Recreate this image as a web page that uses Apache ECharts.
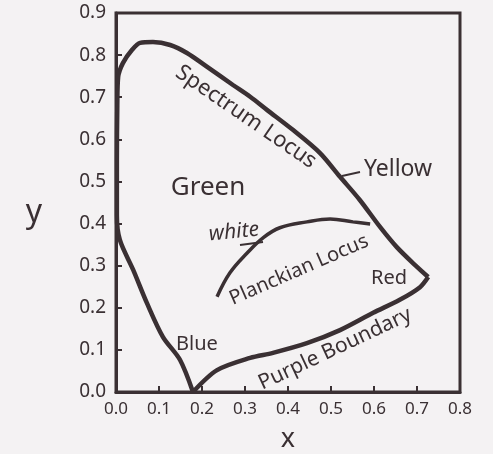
<!DOCTYPE html>
<html><head><meta charset="utf-8">
<script src="https://cdn.jsdelivr.net/npm/echarts@6/dist/echarts.min.js"></script>
<style>html,body{margin:0;padding:0;background:#f4f2f3}#c{width:493px;height:454px}</style>
</head><body><div id="c"></div>
<script>
// Spectrum locus (blue vertex -> up the left side -> over the top -> red vertex)
var spectrumX = [0.179, 0.149, 0.109, 0.072, 0.040, 0.009, 0.002, 0.002, 0.003, 0.005, 0.016, 0.037, 0.056, 0.086, 0.126, 0.165, 0.212, 0.272, 0.312, 0.351, 0.412, 0.474, 0.521, 0.567, 0.614, 0.653, 0.700, 0.726];
var spectrumY = [0.000, 0.076, 0.131, 0.211, 0.290, 0.361, 0.420, 0.550, 0.680, 0.748, 0.781, 0.812, 0.829, 0.831, 0.824, 0.805, 0.772, 0.729, 0.701, 0.670, 0.622, 0.568, 0.511, 0.456, 0.392, 0.344, 0.297, 0.273];
// Purple boundary (red vertex -> blue vertex)
var purpleX = [0.726, 0.707, 0.660, 0.598, 0.521, 0.444, 0.365, 0.312, 0.235, 0.179];
var purpleY = [0.273, 0.249, 0.219, 0.188, 0.147, 0.116, 0.093, 0.081, 0.052, 0.000];
// Planckian locus
var planckX = [0.235, 0.265, 0.305, 0.342, 0.381, 0.444, 0.498, 0.551, 0.591];
var planckY = [0.226, 0.283, 0.330, 0.366, 0.390, 0.404, 0.411, 0.404, 0.399];
// Axis ticks
var xTicks = [0.0, 0.1, 0.2, 0.3, 0.4, 0.5, 0.6, 0.7, 0.8];
var yTicks = [0.0, 0.1, 0.2, 0.3, 0.4, 0.5, 0.6, 0.7, 0.8, 0.9];

function zip(a, b) { return a.map(function (v, i) { return [v, b[i]]; }); }

var ink = '#3a3033';
var font = 'Noto Sans';
var chart = echarts.init(document.getElementById('c'), null, { renderer: 'canvas' });
chart.setOption({
  backgroundColor: '#f4f2f3',
  animation: false,
  grid: { left: 116, top: 13, right: 33, bottom: 62, containLabel: false, outerBoundsMode: 'none', show: true, borderColor: ink, borderWidth: 3, backgroundColor: 'transparent' },
  xAxis: {
    type: 'value', min: xTicks[0], max: xTicks[xTicks.length - 1], interval: 0.1,
    name: 'x', nameLocation: 'middle', nameGap: 34,
    nameTextStyle: { fontSize: 27, color: ink, fontFamily: font },
    axisLine: { show: true, lineStyle: { color: ink, width: 3 } },
    axisTick: { show: true, inside: true, length: 6, lineStyle: { color: ink, width: 2 } },
    axisLabel: { color: ink, fontSize: 17, fontFamily: font, margin: 9, formatter: function (v) { return v.toFixed(1); } },
    splitLine: { show: false }
  },
  yAxis: {
    type: 'value', min: yTicks[0], max: yTicks[yTicks.length - 1], interval: 0.1,
    name: 'y', nameLocation: 'middle', nameGap: 74, nameRotate: 0,
    nameTextStyle: { fontSize: 32, color: ink, fontFamily: font, verticalAlign: 'top', lineHeight: 20 },
    axisLine: { show: true, lineStyle: { color: ink, width: 3 } },
    axisTick: { show: true, inside: true, length: 6, lineStyle: { color: ink, width: 2 } },
    axisLabel: { color: ink, fontSize: 19, fontFamily: font, margin: 10, formatter: function (v) { return v.toFixed(1); } },
    splitLine: { show: false }
  },
  series: [
    { name: 'Spectrum Locus', type: 'line', data: zip(spectrumX, spectrumY), smooth: 0.3, symbol: 'none',
      lineStyle: { color: ink, width: 4.5 } },
    { name: 'Purple Boundary', type: 'line', data: zip(purpleX, purpleY), smooth: 0.3, symbol: 'none',
      lineStyle: { color: ink, width: 4.5 } },
    { name: 'Planckian Locus', type: 'line', data: zip(planckX, planckY), smooth: 0.4, symbol: 'none',
      lineStyle: { color: ink, width: 3.5 } }
  ],
  graphic: [
    { type: 'text', x: 246, y: 117, rotation: -0.6, style: { text: 'Spectrum Locus', textAlign: 'center', textVerticalAlign: 'middle', fontSize: 22, fontFamily: font, fill: ink } },
    { type: 'line', shape: { x1: 342, y1: 176, x2: 360, y2: 172 }, style: { stroke: ink, lineWidth: 2 } },
    { type: 'text', x: 398, y: 169, style: { text: 'Yellow', textAlign: 'center', textVerticalAlign: 'middle', fontSize: 23, fontFamily: font, fill: ink } },
    { type: 'text', x: 208, y: 188, style: { text: 'Green', textAlign: 'center', textVerticalAlign: 'middle', fontSize: 26, fontFamily: font, fill: ink } },
    { type: 'text', x: 234, y: 232, rotation: 0.1, style: { text: 'white', textAlign: 'center', textVerticalAlign: 'middle', fontSize: 21, fontFamily: font, fontStyle: 'italic', fill: ink } },
    { type: 'line', shape: { x1: 240, y1: 245, x2: 263, y2: 242 }, style: { stroke: ink, lineWidth: 2 } },
    { type: 'text', x: 299, y: 270, rotation: 0.41, style: { text: 'Planckian Locus', textAlign: 'center', textVerticalAlign: 'middle', fontSize: 20, fontFamily: font, fill: ink } },
    { type: 'text', x: 389, y: 278, style: { text: 'Red', textAlign: 'center', textVerticalAlign: 'middle', fontSize: 20, fontFamily: font, fill: ink } },
    { type: 'text', x: 335, y: 349, rotation: 0.44, style: { text: 'Purple Boundary', textAlign: 'center', textVerticalAlign: 'middle', fontSize: 21, fontFamily: font, fill: ink } },
    { type: 'text', x: 197, y: 344, style: { text: 'Blue', textAlign: 'center', textVerticalAlign: 'middle', fontSize: 20, fontFamily: font, fill: ink } }
  ]
});
</script></body></html>
